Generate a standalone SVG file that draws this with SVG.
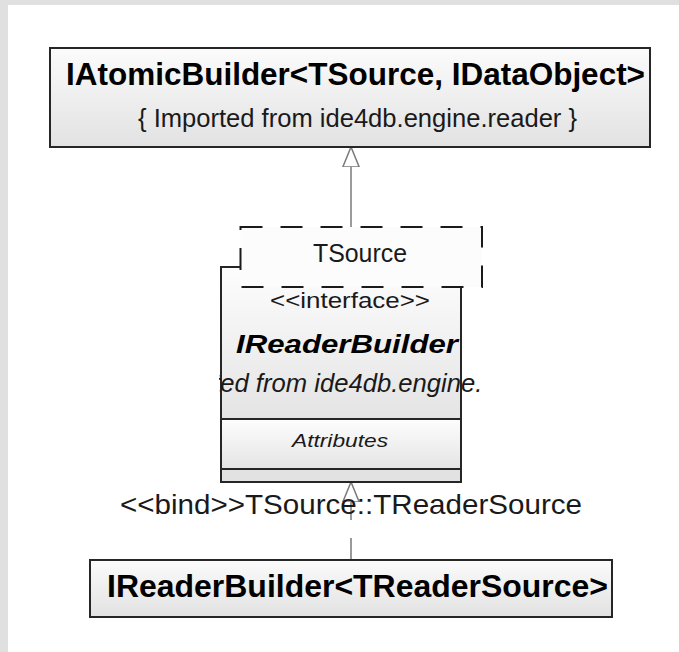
<svg xmlns="http://www.w3.org/2000/svg" width="679" height="652" viewBox="0 0 679 652">
  <style>
    .box { stroke: #262626; stroke-width: 2; }
    .title { font-family: "Liberation Sans", Arial, sans-serif; font-weight: bold; fill: #000; }
    .plain { font-family: "Liberation Sans", Arial, sans-serif; fill: #1a1a1a; }
    .ital { font-family: "Liberation Sans", Arial, sans-serif; font-style: italic; fill: #1a1a1a; }
    .conn { stroke: #7a7a7a; stroke-width: 1.5; fill: none; }
  </style>
  <defs>
    <linearGradient id="boxFill" x1="0" y1="0" x2="0" y2="1">
      <stop offset="0" stop-color="#fbfbfb"/>
      <stop offset="1" stop-color="#e2e2e2"/>
    </linearGradient>
    <linearGradient id="compFill" x1="0" y1="0" x2="0" y2="1">
      <stop offset="0" stop-color="#fdfdfd"/>
      <stop offset="1" stop-color="#e4e4e4"/>
    </linearGradient>
    <!-- hollow triangle head used for generalization / binding -->
    <marker id="hollow" viewBox="0 0 20 18" refX="20" refY="9" markerWidth="20" markerHeight="18" markerUnits="userSpaceOnUse" orient="auto">
      <path d="M20,9 L0,0.8 L0,17.2 Z" fill="#fff" stroke="#7a7a7a" stroke-width="1.5"/>
    </marker>
    <clipPath id="noteClip">
      <rect x="219" y="360" width="263" height="50"/>
    </clipPath>
  </defs>

  <!-- canvas -->
  <rect x="0" y="0" width="679" height="652" fill="#e0e0e0"/>
  <rect x="8" y="5" width="671" height="647" fill="#fff"/>

  <g id="connectors">
    <!-- IReaderBuilder realizes IAtomicBuilder -->
    <line class="conn" x1="351" y1="227" x2="351" y2="147" marker-end="url(#hollow)"/>
    <!-- bound element to template -->
    <line class="conn" x1="351" y1="560" x2="351" y2="482" stroke-dasharray="22 18" marker-end="url(#hollow)"/>
    <text class="plain" x="120" y="514" font-size="28" textLength="462" lengthAdjust="spacingAndGlyphs" fill="#222">&lt;&lt;bind&gt;&gt;TSource::TReaderSource</text>
  </g>

  <g id="IAtomicBuilder">
    <rect class="box" x="50" y="48" width="600" height="99" fill="url(#boxFill)"/>
    <text class="title" x="66" y="85" font-size="32" textLength="579" lengthAdjust="spacingAndGlyphs">IAtomicBuilder&lt;TSource, IDataObject&gt;</text>
    <text class="plain" x="138" y="127" font-size="26" textLength="439" lengthAdjust="spacingAndGlyphs">{ Imported from ide4db.engine.reader }</text>
  </g>

  <g id="IReaderBuilder">
    <rect x="221" y="267" width="240" height="152" fill="url(#compFill)"/>
    <rect x="221" y="419" width="240" height="50" fill="url(#compFill)"/>
    <rect x="221" y="469" width="240" height="13" fill="#e2e2e2"/>
    <rect class="box" x="221" y="267" width="240" height="215" fill="none"/>
    <line class="box" x1="221" y1="419" x2="461" y2="419"/>
    <line class="box" x1="221" y1="469" x2="461" y2="469"/>
    <text class="plain" x="270" y="308" font-size="22" textLength="160" lengthAdjust="spacingAndGlyphs">&lt;&lt;interface&gt;&gt;</text>
    <text class="title" x="236" y="353" font-size="26" font-style="italic" textLength="222" lengthAdjust="spacingAndGlyphs">IReaderBuilder</text>
    <g clip-path="url(#noteClip)">
      <text class="ital" x="132" y="392" font-size="25" textLength="440" lengthAdjust="spacingAndGlyphs">{ Imported from ide4db.engine.reader }</text>
    </g>
    <text class="ital" x="292" y="447" font-size="19" textLength="96" lengthAdjust="spacingAndGlyphs">Attributes</text>
    <!-- template parameter box -->
    <rect x="240.5" y="227" width="241.5" height="60" fill="#fcfcfc" stroke="#1a1a1a" stroke-width="2" stroke-dasharray="22 18"/>
    <text class="plain" x="313" y="262" font-size="25" textLength="94" lengthAdjust="spacingAndGlyphs">TSource</text>
  </g>

  <g id="IReaderBuilder_TReaderSource">
    <rect class="box" x="90" y="560" width="522" height="57" fill="url(#boxFill)"/>
    <text class="title" x="107" y="597" font-size="32" textLength="501" lengthAdjust="spacingAndGlyphs">IReaderBuilder&lt;TReaderSource&gt;</text>
  </g>
</svg>
